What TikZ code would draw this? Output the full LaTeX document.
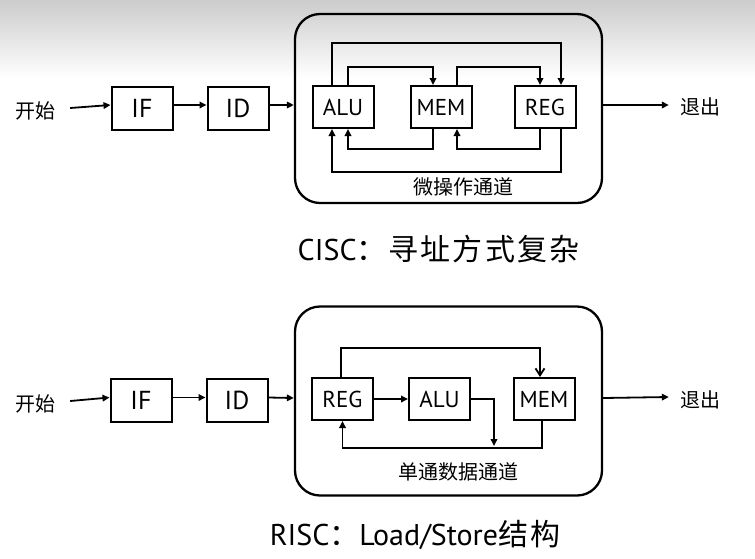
\documentclass[tikz,border=0pt]{standalone}
\usepackage{fontspec}
\setmainfont{PT Sans}
\newfontfamily\cjk{Noto Sans CJK SC}
\newfontfamily\cjkwide[LetterSpace=7]{Noto Sans CJK SC}
\usetikzlibrary{arrows.meta,calc}
\begin{document}
\begin{tikzpicture}[x=1pt,y=-1pt,
  box/.style={draw,line width=2pt,minimum width=61pt,minimum height=43pt,inner sep=0pt,font=\fontsize{26}{28}\selectfont},
  sbox/.style={box,minimum width=61pt,minimum height=42pt,font=\fontsize{23}{25}\selectfont},
  frame/.style={draw,line width=2.3pt,rounded corners=25pt,minimum width=307pt,minimum height=189pt,inner sep=0pt},
  arr/.style={-{Triangle[length=7pt,width=6.5pt]},line width=1.8pt},
  bigarr/.style={-{Straight Barb[length=7pt,width=9pt]},line width=1.8pt},
  cjklab/.style={font=\cjk\fontsize{20}{22}\selectfont,inner sep=0pt},
  ttl/.style={font=\fontsize{30}{32}\selectfont,inner sep=0pt}]
\useasboundingbox (0,0) rectangle (755,558);
\fill[white] (0,0) rectangle (755,558);
\shade[top color=gray!40,bottom color=white] (0,0) rectangle (755,78);

% ---------- CISC ----------
\node[cjklab] (s1) at (35,111) {开始};
\node[box] (if1) at (142,108) {IF};
\node[box] (id1) at (238,108) {ID};
\node[frame] (f1) at (448.5,108.5) {};
\node[sbox] (alu1) at (343,107) {ALU};
\node[sbox] (mem1) at (441,107) {MEM};
\node[sbox] (reg1) at (545,107) {REG};
\node[cjklab] (e1) at (700,107) {退出};
\node[cjklab] (l1) at (463,187) {微操作通道};
\node[ttl] (t1) at (438.5,249) {CISC{\cjkwide ：寻址方式复杂}};

\draw[arr] ([xshift=15pt,yshift=3pt]s1.east) -- ([yshift=3pt]if1.west);
\draw[arr] ([yshift=3pt]if1.east) -- ([yshift=3pt]id1.west);
\draw[arr] ([yshift=3pt]id1.east) -- ([yshift=3.5pt]f1.west);
\draw[arr] ([yshift=3.5pt]f1.east) -- ([xshift=-11pt,yshift=2pt]e1.west);

\draw[arr] ([xshift=-11pt]alu1.north) -- ++(0,-42) -| ([xshift=16pt]reg1.north);
\draw[arr] ([xshift=5pt]alu1.north) -- ++(0,-18) -| ([xshift=-8pt]mem1.north);
\draw[arr] ([xshift=16pt]mem1.north) -- ++(0,-18) -| ([xshift=-5pt]reg1.north);
\draw[arr] ([xshift=-8pt]mem1.south) -- ++(0,20) -| ([xshift=5pt]alu1.south);
\draw[arr] ([xshift=-5pt]reg1.south) -- ++(0,20) -| ([xshift=16pt]mem1.south);
\draw[arr] ([xshift=16pt]reg1.south) -- ++(0,43) -| ([xshift=-11pt]alu1.south);

% ---------- RISC ----------
\node[cjklab] (s2) at (35,404) {开始};
\node[box] (if2) at (141,400.5) {IF};
\node[box] (id2) at (237,400.5) {ID};
\node[frame] (f2) at (448.5,401) {};
\node[sbox] (reg2) at (342.5,399) {REG};
\node[sbox] (alu2) at (439.5,399) {ALU};
\node[sbox] (mem2) at (544,399) {MEM};
\node[cjklab] (e2) at (700,400) {退出};
\node[cjklab] (l2) at (458,472) {单通数据通道};
\node[ttl] (t2) at (415,535) {RISC{\cjkwide ：}Load/Store{\cjkwide 结构}};
\coordinate (j) at (494,446);

\draw[arr] ([xshift=15pt,yshift=3pt]s2.east) -- ([yshift=3pt]if2.west);
\draw[arr] ([yshift=3pt]if2.east) -- ([yshift=3pt]id2.west);
\draw[arr] ([yshift=3pt]id2.east) -- ([yshift=3pt]f2.west);
\draw[arr] ([yshift=3pt]f2.east) -- ([xshift=-11pt,yshift=3pt]e2.west);

\draw[arr] (reg2.east) -- (alu2.west);
\draw[bigarr] ([xshift=-1.5pt]reg2.north) -- ++(0,-29) -| ([xshift=-4pt]mem2.north);
\draw[arr] ([xshift=-2pt]mem2.south) -- ++(0,27) -| (reg2.south);
\draw[arr] (alu2.east) -| (j);
\end{tikzpicture}
\end{document}
